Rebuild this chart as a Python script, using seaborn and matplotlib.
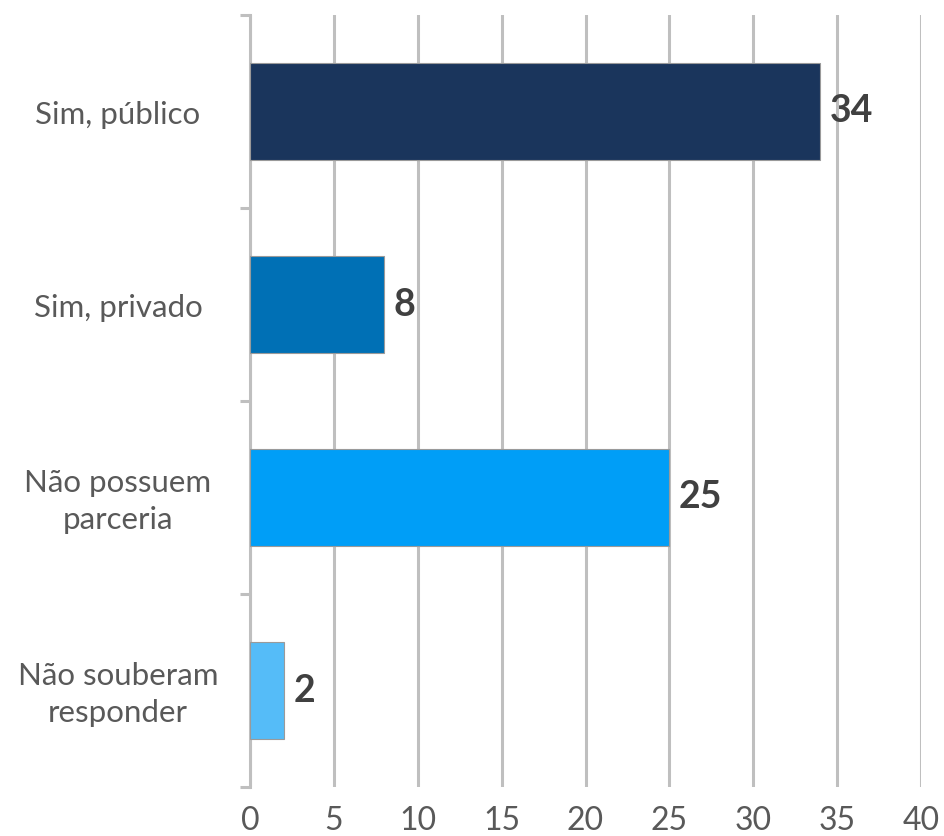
import matplotlib
matplotlib.use("Agg")
import matplotlib.pyplot as plt
import matplotlib.transforms as mtransforms
import seaborn as sns
import pandas as pd

categories = ["Sim, público", "Sim, privado", "Não possuem\nparceria", "Não souberam\nresponder"]
values = [34, 8, 25, 2]
bar_colors = ["#1A355C", "#0070B5", "#009EF7", "#55BCF8"]
x_ticks = [0, 5, 10, 15, 20, 25, 30, 35, 40]

sns.set_theme(style="white")
plt.rcParams["font.family"] = ["Lato", "DejaVu Sans"]

df = pd.DataFrame({"categoria": categories, "valor": values})

fig = plt.figure(figsize=(9.44, 8.36), dpi=100)
ax = fig.add_axes([250 / 944, 1 - 787 / 836, (921 - 250) / 944, (787 - 15) / 836])

grid_color = "#BFBFBF"

sns.barplot(
    data=df, x="valor", y="categoria", hue="categoria",
    palette=bar_colors, legend=False, orient="h", width=0.5,
    edgecolor="#9A9A9A", linewidth=0.8, saturation=1, ax=ax, zorder=3,
)

ax.set_xlim(0, 40)
ax.set_ylim(3.5, -0.5)
ax.set_xticks(x_ticks)
ax.set_xticklabels([str(t) for t in x_ticks], fontsize=23, color="#595959")
ax.tick_params(axis="x", length=0, pad=14)

# vertical gridlines
ax.grid(axis="x", color=grid_color, linewidth=2.2, zorder=0)
ax.grid(axis="y", visible=False)
ax.set_axisbelow(True)

for side in ["top", "right", "bottom"]:
    ax.spines[side].set_visible(False)
ax.spines["left"].set_color(grid_color)
ax.spines["left"].set_linewidth(2.2)

# category separators on the left axis
ax.set_yticks([-0.5, 0.5, 1.5, 2.5, 3.5])
ax.set_yticklabels([])
ax.tick_params(axis="y", length=7, width=2.2, color=grid_color, direction="out", left=True)
ax.set_xlabel("")
ax.set_ylabel("")

# category names, centred in the left margin
trans = mtransforms.blended_transform_factory(fig.transFigure, ax.transData)
for i, cat in enumerate(categories):
    ax.text(118 / 944, i + 0.02, cat, transform=trans, ha="center", va="center",
            fontsize=22.5, color="#595959", linespacing=1.38)

# value labels at bar ends
for i, v in enumerate(values):
    ax.annotate(str(v), xy=(v, i), xytext=(7, 0), textcoords="offset points",
                ha="left", va="center", fontsize=27, fontweight="bold",
                color="#404040")

fig.savefig("out.png", dpi=100)
